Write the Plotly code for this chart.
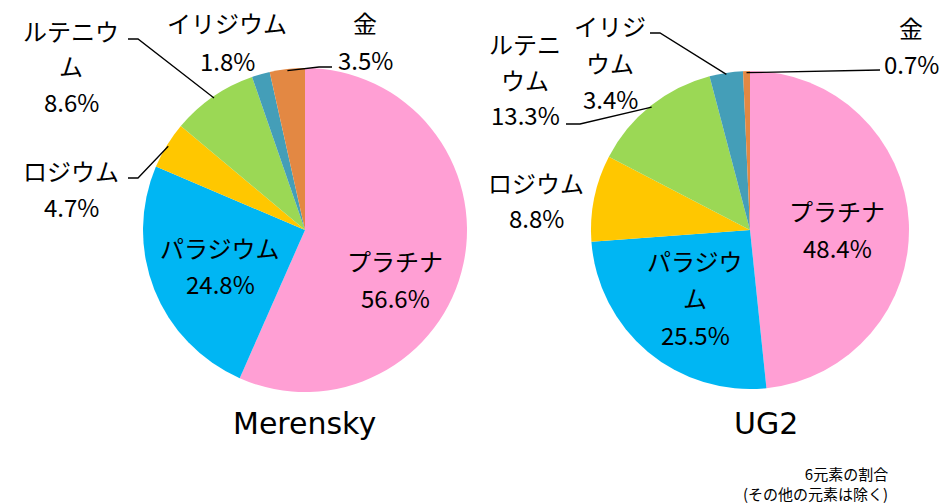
import math
import plotly.graph_objects as go

# ---------------- data ----------------
elements = ["プラチナ", "パラジウム", "ロジウム", "ルテニウム", "イリジウム", "金"]
merensky_pct = [56.6, 24.8, 4.7, 8.6, 1.8, 3.5]
ug2_pct = [48.4, 25.5, 8.8, 13.3, 3.4, 0.7]
pie_titles = ["Merensky", "UG2"]
note_lines = ["6元素の割合", "(その他の元素は除く)"]

colors = ["#FF9FD4", "#00B6F3", "#FFC700", "#9BD855", "#449EB8", "#E38843"]

W, H = 939, 504
FONT = "Noto Sans CJK JP"
TITLE_FONT = "DejaVu Sans"

# pie geometry (pixels): center x, center y, radius
pies = [
    dict(values=merensky_pct, cx=305, cy=230, r=162, title_x=304, title_y=423,
         labels={
             "プラチナ": (["プラチナ"], 395, 260, 37),
             "パラジウム": (["パラジウム"], 220, 247, 36),
             "ロジウム": (["ロジウム"], 71, 170, 36),
             "ルテニウム": (["ルテニウ", "ム"], 71, 30, 36),
             "イリジウム": (["イリジウム"], 227, 23, 37),
             "金": (["金"], 365, 23, 36),
         },
         leaders={
             "ルテニウム": [(138, 39), (128, 39)],
             "ロジウム": [(138, 178), (128, 178)],
             "金": [(319, 67), (332, 67)],
         }),
    dict(values=ug2_pct, cx=750, cy=230, r=159, title_x=766, title_y=423,
         labels={
             "プラチナ": (["プラチナ"], 837, 210, 37),
             "パラジウム": (["パラジウ", "ム"], 695, 260, 37),
             "ロジウム": (["ロジウム"], 536, 182, 35),
             "ルテニウム": (["ルテニ", "ウム"], 525, 43, 36),
             "イリジウム": (["イリジ", "ウム"], 610, 25, 37),
             "金": (["金"], 911, 27, 36),
         },
         leaders={
             "イリジウム": [(660, 33), (650, 33)],
             "金": [(880, 70), (880, 70)],
             "ルテニウム": [(580, 124), (566, 124)],
         }),
]


def px2paper(x, y):
    return x / W, 1 - y / H


fig = go.Figure()
annotations = []
shapes = []

for p in pies:
    vals = p["values"]
    cx, cy, r = p["cx"], p["cy"], p["r"]
    x0, y0 = px2paper(cx - r, cy + r)
    x1, y1 = px2paper(cx + r, cy - r)
    fig.add_trace(go.Pie(
        labels=elements, values=vals, sort=False, direction="clockwise",
        rotation=0, textinfo="none", hoverinfo="label+percent",
        marker=dict(colors=colors, line=dict(width=0)),
        domain=dict(x=[x0, x1], y=[y0, y1]), showlegend=False,
    ))

    total = sum(vals)
    cum = 0.0
    for name, v in zip(elements, vals):
        mid = (cum + v / 2) / total
        cum += v
        ang = 2 * math.pi * mid
        ex = cx + r * 0.99 * math.sin(ang)
        ey = cy - r * 0.99 * math.cos(ang)

        lines, lx, ly, sp = p["labels"][name]
        all_lines = lines + [f"{v}%"]
        for i, t in enumerate(all_lines):
            ax, ay = px2paper(lx, ly + i * sp)
            annotations.append(dict(
                x=ax, y=ay, xref="paper", yref="paper", text=t, showarrow=False,
                xanchor="center", yanchor="middle",
                font=dict(family=FONT, size=24, color="#000000"),
            ))

        if name in p["leaders"]:
            pts = [(ex, ey)] + p["leaders"][name]
            path = ""
            for j, (qx, qy) in enumerate(pts):
                sx, sy = px2paper(qx, qy)
                path += ("M" if j == 0 else "L") + f"{sx},{sy} "
            shapes.append(dict(type="path", path=path.strip(), xref="paper",
                               yref="paper", line=dict(color="#000000", width=1.3)))

for p, t in zip(pies, pie_titles):
    tx, ty = px2paper(p["title_x"], p["title_y"])
    annotations.append(dict(
        x=tx, y=ty, xref="paper", yref="paper", text=t, showarrow=False,
        xanchor="center", yanchor="middle",
        font=dict(family=TITLE_FONT, size=30, color="#000000"),
    ))

nx, ny = px2paper(890, 483)
annotations.append(dict(
    x=nx, y=ny, xref="paper", yref="paper", text="<br>".join(note_lines),
    showarrow=False, xanchor="right", yanchor="middle", align="right",
    font=dict(family=FONT, size=15, color="#000000"),
))

fig.update_layout(
    width=W, height=H,
    margin=dict(l=0, r=0, t=0, b=0),
    paper_bgcolor="#FFFFFF", plot_bgcolor="#FFFFFF",
    annotations=annotations, shapes=shapes,
    font=dict(family=FONT),
)

fig.write_html("out.html", config={"displayModeBar": False},
               post_script="document.body.style.margin='0';document.body.style.overflow='hidden';")
